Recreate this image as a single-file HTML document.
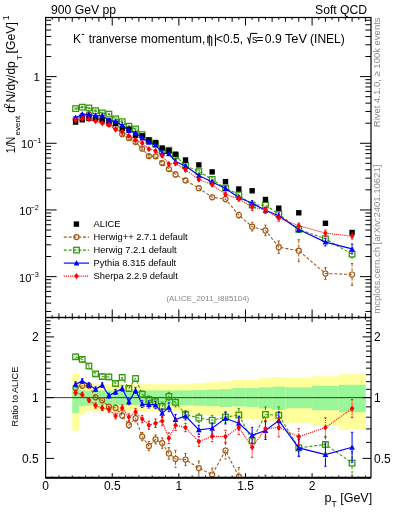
<!DOCTYPE html><html><head><meta charset="utf-8"><style>html,body{margin:0;padding:0;background:#fff;}svg{display:block;will-change:transform;}</style></head><body>
<svg width="393" height="512" viewBox="0 0 393 512" style="font-family:'Liberation Sans', sans-serif">
<defs><clipPath id="ct"><rect x="45.6" y="17.5" width="325.4" height="300"/></clipPath>
<clipPath id="cr"><rect x="45.6" y="317.5" width="325.4" height="160.2"/></clipPath></defs>
<g clip-path="url(#cr)">
<rect x="72.25" y="373.9" width="6.96" height="56.7" fill="#ffff9c"/>
<rect x="72.25" y="384.8" width="6.96" height="28.3" fill="#99f799"/>
<rect x="78.91" y="383.5" width="6.96" height="31.1" fill="#ffff9c"/>
<rect x="78.91" y="390.2" width="6.96" height="16" fill="#99f799"/>
<rect x="85.58" y="383.3" width="6.96" height="27.5" fill="#ffff9c"/>
<rect x="85.58" y="391" width="6.96" height="14.5" fill="#99f799"/>
<rect x="92.24" y="384.2" width="6.96" height="27.3" fill="#ffff9c"/>
<rect x="92.24" y="390.4" width="6.96" height="14.6" fill="#99f799"/>
<rect x="98.9" y="384.2" width="6.96" height="27.3" fill="#ffff9c"/>
<rect x="98.9" y="390.4" width="6.96" height="14.6" fill="#99f799"/>
<rect x="105.56" y="384.2" width="6.96" height="27.3" fill="#ffff9c"/>
<rect x="105.56" y="390.4" width="6.96" height="14.6" fill="#99f799"/>
<rect x="112.22" y="384.2" width="6.96" height="27.3" fill="#ffff9c"/>
<rect x="112.22" y="390.4" width="6.96" height="14.6" fill="#99f799"/>
<rect x="118.89" y="384.2" width="6.96" height="27.3" fill="#ffff9c"/>
<rect x="118.89" y="390.4" width="6.96" height="14.6" fill="#99f799"/>
<rect x="125.55" y="384.2" width="6.96" height="27.3" fill="#ffff9c"/>
<rect x="125.55" y="390.4" width="6.96" height="14.6" fill="#99f799"/>
<rect x="132.21" y="384.2" width="6.96" height="27.3" fill="#ffff9c"/>
<rect x="132.21" y="390.4" width="6.96" height="14.6" fill="#99f799"/>
<rect x="138.88" y="384.2" width="6.96" height="27.3" fill="#ffff9c"/>
<rect x="138.88" y="390.4" width="6.96" height="14.6" fill="#99f799"/>
<rect x="145.54" y="384.2" width="6.96" height="27.3" fill="#ffff9c"/>
<rect x="145.54" y="390.4" width="6.96" height="14.6" fill="#99f799"/>
<rect x="152.2" y="384.2" width="6.96" height="27.3" fill="#ffff9c"/>
<rect x="152.2" y="390.4" width="6.96" height="14.6" fill="#99f799"/>
<rect x="158.86" y="384.2" width="6.96" height="27.3" fill="#ffff9c"/>
<rect x="158.86" y="390.4" width="6.96" height="14.6" fill="#99f799"/>
<rect x="165.53" y="384.2" width="6.96" height="27.3" fill="#ffff9c"/>
<rect x="165.53" y="390.4" width="6.96" height="14.6" fill="#99f799"/>
<rect x="172.19" y="384.2" width="6.96" height="27.3" fill="#ffff9c"/>
<rect x="172.19" y="390.4" width="6.96" height="14.6" fill="#99f799"/>
<rect x="178.85" y="384.3" width="13.63" height="29.4" fill="#ffff9c"/>
<rect x="178.85" y="390.4" width="13.63" height="14.9" fill="#99f799"/>
<rect x="192.18" y="383.2" width="13.62" height="31.3" fill="#ffff9c"/>
<rect x="192.18" y="390.1" width="13.62" height="15.6" fill="#99f799"/>
<rect x="205.5" y="382.3" width="13.62" height="33" fill="#ffff9c"/>
<rect x="205.5" y="389.6" width="13.62" height="16.5" fill="#99f799"/>
<rect x="218.82" y="381.2" width="13.62" height="34.8" fill="#ffff9c"/>
<rect x="218.82" y="389.2" width="13.62" height="17.7" fill="#99f799"/>
<rect x="232.15" y="380" width="13.63" height="39.1" fill="#ffff9c"/>
<rect x="232.15" y="388.1" width="13.63" height="18.3" fill="#99f799"/>
<rect x="245.47" y="380" width="13.63" height="39.1" fill="#ffff9c"/>
<rect x="245.47" y="388.1" width="13.63" height="18.8" fill="#99f799"/>
<rect x="258.8" y="378.2" width="13.62" height="42.4" fill="#ffff9c"/>
<rect x="258.8" y="387.3" width="13.62" height="21.1" fill="#99f799"/>
<rect x="272.12" y="377" width="13.62" height="44.4" fill="#ffff9c"/>
<rect x="272.12" y="386.6" width="13.62" height="23.3" fill="#99f799"/>
<rect x="285.45" y="377.7" width="26.95" height="45.1" fill="#ffff9c"/>
<rect x="285.45" y="387.3" width="26.95" height="20.9" fill="#99f799"/>
<rect x="312.1" y="376.3" width="26.95" height="49.7" fill="#ffff9c"/>
<rect x="312.1" y="385.8" width="26.95" height="24.4" fill="#99f799"/>
<rect x="338.75" y="374.2" width="26.95" height="55.3" fill="#ffff9c"/>
<rect x="338.75" y="384.8" width="26.95" height="27.4" fill="#99f799"/>
<line x1="45.6" y1="397.65" x2="371" y2="397.65" stroke="#3a3a3a" stroke-width="1.0"/>
</g>
<g clip-path="url(#ct)">
<path d="M238.81 212.08V212.18 M238.81 217.98V218.08 M252.14 222.4V223.8 M252.14 229.6V231 M265.46 225.1V227.5 M265.46 233.3V235.7 M278.79 240.9V244.3 M278.79 250.1V253.5 M298.77 239.7V247.8 M298.77 253.6V261.7 M325.43 267.6V270.6 M325.43 276.4V279.4 M352.07 263.5V271.6 M352.07 277.4V285.5" fill="none" stroke="#a3560f" stroke-width="1.05" stroke-dasharray="3,1.8"/><path d="M74.38 118.14h2.4M74.38 119.75h2.4 M81.04 115.12h2.4M81.04 116.65h2.4 M87.71 113.64h2.4M87.71 115.13h2.4 M94.37 117.59h2.4M94.37 119.18h2.4 M101.03 119.94h2.4M101.03 121.61h2.4 M107.69 123.18h2.4M107.69 124.94h2.4 M114.36 125.96h2.4M114.36 127.81h2.4 M121.02 133.28h2.4M121.02 135.38h2.4 M127.68 137.08h2.4M127.68 139.33h2.4 M134.34 140.92h2.4M134.34 143.32h2.4 M141.01 147.32h2.4M141.01 150.01h2.4 M147.67 154.48h2.4M147.67 157.53h2.4 M154.33 154.81h2.4M154.33 157.78h2.4 M160.99 161.29h2.4M160.99 164.74h2.4 M167.66 167.1h2.4M167.66 170.93h2.4 M174.32 171.59h2.4M174.32 177.21h2.4 M184.31 178.42h2.4M184.31 182.45h2.4 M197.64 185.86h2.4M197.64 190.49h2.4 M210.96 195.14h2.4M210.96 199.44h2.4 M224.29 196.28h2.4M224.29 201.83h2.4 M237.61 212.08h2.4M237.61 218.08h2.4 M250.94 222.4h2.4M250.94 231h2.4 M264.26 225.1h2.4M264.26 235.7h2.4 M277.59 240.9h2.4M277.59 253.5h2.4 M297.57 239.7h2.4M297.57 261.7h2.4 M324.23 267.6h2.4M324.23 279.4h2.4 M350.88 263.5h2.4M350.88 285.5h2.4" fill="none" stroke="#a3560f" stroke-width="0.9"/>
<polyline points="75.58,118.95 82.24,115.89 88.91,114.39 95.57,118.38 102.23,120.78 108.89,124.06 115.56,126.89 122.22,134.33 128.88,138.2 135.54,142.12 142.21,148.67 148.87,156.01 155.53,156.29 162.19,163.02 168.86,169.02 175.52,174.4 185.51,180.43 198.84,188.17 212.16,197.29 225.49,199.06 238.81,215.08 252.14,226.7 265.46,230.4 278.79,247.2 298.77,250.7 325.43,273.5 352.07,274.5" fill="none" stroke="#a3560f" stroke-width="1.05" stroke-dasharray="3,1.8"/>
<circle cx="75.58" cy="118.95" r="2.55" fill="none" stroke="#a3560f" stroke-width="1.15"/>
<circle cx="82.24" cy="115.89" r="2.55" fill="none" stroke="#a3560f" stroke-width="1.15"/>
<circle cx="88.91" cy="114.39" r="2.55" fill="none" stroke="#a3560f" stroke-width="1.15"/>
<circle cx="95.57" cy="118.38" r="2.55" fill="none" stroke="#a3560f" stroke-width="1.15"/>
<circle cx="102.23" cy="120.78" r="2.55" fill="none" stroke="#a3560f" stroke-width="1.15"/>
<circle cx="108.89" cy="124.06" r="2.55" fill="none" stroke="#a3560f" stroke-width="1.15"/>
<circle cx="115.56" cy="126.89" r="2.55" fill="none" stroke="#a3560f" stroke-width="1.15"/>
<circle cx="122.22" cy="134.33" r="2.55" fill="none" stroke="#a3560f" stroke-width="1.15"/>
<circle cx="128.88" cy="138.2" r="2.55" fill="none" stroke="#a3560f" stroke-width="1.15"/>
<circle cx="135.54" cy="142.12" r="2.55" fill="none" stroke="#a3560f" stroke-width="1.15"/>
<circle cx="142.21" cy="148.67" r="2.55" fill="none" stroke="#a3560f" stroke-width="1.15"/>
<circle cx="148.87" cy="156.01" r="2.55" fill="none" stroke="#a3560f" stroke-width="1.15"/>
<circle cx="155.53" cy="156.29" r="2.55" fill="none" stroke="#a3560f" stroke-width="1.15"/>
<circle cx="162.19" cy="163.02" r="2.55" fill="none" stroke="#a3560f" stroke-width="1.15"/>
<circle cx="168.86" cy="169.02" r="2.55" fill="none" stroke="#a3560f" stroke-width="1.15"/>
<circle cx="175.52" cy="174.4" r="2.55" fill="none" stroke="#a3560f" stroke-width="1.15"/>
<circle cx="185.51" cy="180.43" r="2.55" fill="none" stroke="#a3560f" stroke-width="1.15"/>
<circle cx="198.84" cy="188.17" r="2.55" fill="none" stroke="#a3560f" stroke-width="1.15"/>
<circle cx="212.16" cy="197.29" r="2.55" fill="none" stroke="#a3560f" stroke-width="1.15"/>
<circle cx="225.49" cy="199.06" r="2.55" fill="none" stroke="#a3560f" stroke-width="1.15"/>
<circle cx="238.81" cy="215.08" r="2.55" fill="none" stroke="#a3560f" stroke-width="1.15"/>
<circle cx="252.14" cy="226.7" r="2.55" fill="none" stroke="#a3560f" stroke-width="1.15"/>
<circle cx="265.46" cy="230.4" r="2.55" fill="none" stroke="#a3560f" stroke-width="1.15"/>
<circle cx="278.79" cy="247.2" r="2.55" fill="none" stroke="#a3560f" stroke-width="1.15"/>
<circle cx="298.77" cy="250.7" r="2.55" fill="none" stroke="#a3560f" stroke-width="1.15"/>
<circle cx="325.43" cy="273.5" r="2.55" fill="none" stroke="#a3560f" stroke-width="1.15"/>
<circle cx="352.07" cy="274.5" r="2.55" fill="none" stroke="#a3560f" stroke-width="1.15"/>
<path d="M352.07 250.16V251.22 M352.07 257.02V258.09" fill="none" stroke="#33960a" stroke-width="1.05" stroke-dasharray="3,1.8"/><path d="M74.38 107.93h2.4M74.38 109.28h2.4 M81.04 106.51h2.4M81.04 107.82h2.4 M87.71 107.28h2.4M87.71 108.61h2.4 M94.37 109.96h2.4M94.37 111.35h2.4 M101.03 112.22h2.4M101.03 113.67h2.4 M107.69 113.4h2.4M107.69 114.89h2.4 M114.36 118.02h2.4M114.36 119.63h2.4 M121.02 120.86h2.4M121.02 122.56h2.4 M127.68 125.26h2.4M127.68 127.09h2.4 M134.34 128.02h2.4M134.34 129.93h2.4 M141.01 133.6h2.4M141.01 135.72h2.4 M147.67 139.44h2.4M147.67 141.78h2.4 M154.33 142.63h2.4M154.33 145.11h2.4 M160.99 149.49h2.4M160.99 152.29h2.4 M167.66 148.84h2.4M167.66 151.6h2.4 M174.32 154.21h2.4M174.32 157.26h2.4 M184.31 164.23h2.4M184.31 166.77h2.4 M197.64 170.21h2.4M197.64 173.04h2.4 M210.96 177.76h2.4M210.96 181h2.4 M224.29 186.15h2.4M224.29 189.9h2.4 M237.61 192.62h2.4M237.61 196.84h2.4 M250.94 202.44h2.4M250.94 207.47h2.4 M264.26 202.56h2.4M264.26 207.58h2.4 M277.59 211.26h2.4M277.59 216.81h2.4 M297.57 226.76h2.4M297.57 232.04h2.4 M324.23 236.1h2.4M324.23 241.39h2.4 M350.88 250.16h2.4M350.88 258.09h2.4" fill="none" stroke="#33960a" stroke-width="0.9"/>
<polyline points="75.58,108.6 82.24,107.16 88.91,107.94 95.57,110.65 102.23,112.95 108.89,114.14 115.56,118.83 122.22,121.71 128.88,126.18 135.54,128.97 142.21,134.66 148.87,140.61 155.53,143.87 162.19,150.89 168.86,150.22 175.52,155.74 185.51,165.5 198.84,171.62 212.16,179.38 225.49,188.03 238.81,194.73 252.14,204.96 265.46,205.07 278.79,214.03 298.77,229.4 325.43,238.74 352.07,254.12" fill="none" stroke="#33960a" stroke-width="1.05" stroke-dasharray="3,1.8"/>
<rect x="72.78" y="105.8" width="5.6" height="5.6" fill="none" stroke="#33960a" stroke-width="1.25"/>
<rect x="79.44" y="104.36" width="5.6" height="5.6" fill="none" stroke="#33960a" stroke-width="1.25"/>
<rect x="86.11" y="105.14" width="5.6" height="5.6" fill="none" stroke="#33960a" stroke-width="1.25"/>
<rect x="92.77" y="107.85" width="5.6" height="5.6" fill="none" stroke="#33960a" stroke-width="1.25"/>
<rect x="99.43" y="110.15" width="5.6" height="5.6" fill="none" stroke="#33960a" stroke-width="1.25"/>
<rect x="106.09" y="111.34" width="5.6" height="5.6" fill="none" stroke="#33960a" stroke-width="1.25"/>
<rect x="112.76" y="116.03" width="5.6" height="5.6" fill="none" stroke="#33960a" stroke-width="1.25"/>
<rect x="119.42" y="118.91" width="5.6" height="5.6" fill="none" stroke="#33960a" stroke-width="1.25"/>
<rect x="126.08" y="123.38" width="5.6" height="5.6" fill="none" stroke="#33960a" stroke-width="1.25"/>
<rect x="132.74" y="126.17" width="5.6" height="5.6" fill="none" stroke="#33960a" stroke-width="1.25"/>
<rect x="139.41" y="131.86" width="5.6" height="5.6" fill="none" stroke="#33960a" stroke-width="1.25"/>
<rect x="146.07" y="137.81" width="5.6" height="5.6" fill="none" stroke="#33960a" stroke-width="1.25"/>
<rect x="152.73" y="141.07" width="5.6" height="5.6" fill="none" stroke="#33960a" stroke-width="1.25"/>
<rect x="159.39" y="148.09" width="5.6" height="5.6" fill="none" stroke="#33960a" stroke-width="1.25"/>
<rect x="166.06" y="147.42" width="5.6" height="5.6" fill="none" stroke="#33960a" stroke-width="1.25"/>
<rect x="172.72" y="152.94" width="5.6" height="5.6" fill="none" stroke="#33960a" stroke-width="1.25"/>
<rect x="182.71" y="162.7" width="5.6" height="5.6" fill="none" stroke="#33960a" stroke-width="1.25"/>
<rect x="196.04" y="168.82" width="5.6" height="5.6" fill="none" stroke="#33960a" stroke-width="1.25"/>
<rect x="209.36" y="176.58" width="5.6" height="5.6" fill="none" stroke="#33960a" stroke-width="1.25"/>
<rect x="222.69" y="185.23" width="5.6" height="5.6" fill="none" stroke="#33960a" stroke-width="1.25"/>
<rect x="236.01" y="191.93" width="5.6" height="5.6" fill="none" stroke="#33960a" stroke-width="1.25"/>
<rect x="249.34" y="202.16" width="5.6" height="5.6" fill="none" stroke="#33960a" stroke-width="1.25"/>
<rect x="262.66" y="202.27" width="5.6" height="5.6" fill="none" stroke="#33960a" stroke-width="1.25"/>
<rect x="275.99" y="211.23" width="5.6" height="5.6" fill="none" stroke="#33960a" stroke-width="1.25"/>
<rect x="295.97" y="226.6" width="5.6" height="5.6" fill="none" stroke="#33960a" stroke-width="1.25"/>
<rect x="322.62" y="235.94" width="5.6" height="5.6" fill="none" stroke="#33960a" stroke-width="1.25"/>
<rect x="349.27" y="251.32" width="5.6" height="5.6" fill="none" stroke="#33960a" stroke-width="1.25"/>
<rect x="72.88" y="119.4" width="5.4" height="5.4" fill="#000"/>
<rect x="79.54" y="117.1" width="5.4" height="5.4" fill="#000"/>
<rect x="86.21" y="115.7" width="5.4" height="5.4" fill="#000"/>
<rect x="92.87" y="115.8" width="5.4" height="5.4" fill="#000"/>
<rect x="99.53" y="117.2" width="5.4" height="5.4" fill="#000"/>
<rect x="106.19" y="118.3" width="5.4" height="5.4" fill="#000"/>
<rect x="112.86" y="120.8" width="5.4" height="5.4" fill="#000"/>
<rect x="119.52" y="125.7" width="5.4" height="5.4" fill="#000"/>
<rect x="126.18" y="126.5" width="5.4" height="5.4" fill="#000"/>
<rect x="132.84" y="132.6" width="5.4" height="5.4" fill="#000"/>
<rect x="139.51" y="133.1" width="5.4" height="5.4" fill="#000"/>
<rect x="146.17" y="137.3" width="5.4" height="5.4" fill="#000"/>
<rect x="152.83" y="139.8" width="5.4" height="5.4" fill="#000"/>
<rect x="159.49" y="145.3" width="5.4" height="5.4" fill="#000"/>
<rect x="166.16" y="147.9" width="5.4" height="5.4" fill="#000"/>
<rect x="172.82" y="151.5" width="5.4" height="5.4" fill="#000"/>
<rect x="182.81" y="157.3" width="5.4" height="5.4" fill="#000"/>
<rect x="196.14" y="162.2" width="5.4" height="5.4" fill="#000"/>
<rect x="209.46" y="169.2" width="5.4" height="5.4" fill="#000"/>
<rect x="222.79" y="178.9" width="5.4" height="5.4" fill="#000"/>
<rect x="236.11" y="186.3" width="5.4" height="5.4" fill="#000"/>
<rect x="249.44" y="188.1" width="5.4" height="5.4" fill="#000"/>
<rect x="262.76" y="196.8" width="5.4" height="5.4" fill="#000"/>
<rect x="276.09" y="205.5" width="5.4" height="5.4" fill="#000"/>
<rect x="296.07" y="210.1" width="5.4" height="5.4" fill="#000"/>
<rect x="322.73" y="220.6" width="5.4" height="5.4" fill="#000"/>
<rect x="349.38" y="229.8" width="5.4" height="5.4" fill="#000"/>
<path d="M265.46 207.38V207.45 M265.46 213.25V213.33 M278.79 212.87V212.88 M278.79 218.68V218.69 M325.43 238.25V239.21 M325.43 245.01V245.98 M352.07 243.95V246 M352.07 251.8V253.86" fill="none" stroke="#0000ff" stroke-width="1.05"/><path d="M74.38 116.9h2.4M74.38 118.48h2.4 M81.04 113.52h2.4M81.04 115.01h2.4 M87.71 113.48h2.4M87.71 114.96h2.4 M94.37 114.95h2.4M94.37 116.47h2.4 M101.03 114.96h2.4M101.03 116.48h2.4 M107.69 119.53h2.4M107.69 121.18h2.4 M114.36 120.76h2.4M114.36 122.44h2.4 M121.02 124.48h2.4M121.02 126.28h2.4 M127.68 129.59h2.4M127.68 131.56h2.4 M134.34 131.88h2.4M134.34 133.93h2.4 M141.01 136.81h2.4M141.01 139.05h2.4 M147.67 141.03h2.4M147.67 143.43h2.4 M154.33 143.63h2.4M154.33 146.16h2.4 M160.99 151.71h2.4M160.99 154.63h2.4 M167.66 152.28h2.4M167.66 155.23h2.4 M174.32 159.74h2.4M174.32 163.1h2.4 M184.31 164.78h2.4M184.31 167.35h2.4 M197.64 174.01h2.4M197.64 177.04h2.4 M210.96 180.3h2.4M210.96 183.69h2.4 M224.29 186.53h2.4M224.29 190.31h2.4 M237.61 195.26h2.4M237.61 199.69h2.4 M250.94 200.63h2.4M250.94 205.91h2.4 M264.26 207.38h2.4M264.26 213.33h2.4 M277.59 212.87h2.4M277.59 218.69h2.4 M297.57 226.53h2.4M297.57 232.28h2.4 M324.23 238.25h2.4M324.23 245.98h2.4 M350.88 243.95h2.4M350.88 253.86h2.4" fill="none" stroke="#0000ff" stroke-width="0.9"/>
<polyline points="75.58,117.69 82.24,114.27 88.91,114.22 95.57,115.71 102.23,115.72 108.89,120.36 115.56,121.6 122.22,125.38 128.88,130.57 135.54,132.9 142.21,137.93 148.87,142.23 155.53,144.9 162.19,153.17 168.86,153.75 175.52,161.42 185.51,166.06 198.84,175.52 212.16,181.99 225.49,188.42 238.81,197.47 252.14,203.27 265.46,210.35 278.79,215.78 298.77,229.4 325.43,242.11 352.07,248.9" fill="none" stroke="#0000ff" stroke-width="1.15"/>
<path d="M75.58 114.49L78.38 120.19L72.78 120.19Z" fill="#0000ff"/>
<path d="M82.24 111.07L85.04 116.77L79.44 116.77Z" fill="#0000ff"/>
<path d="M88.91 111.02L91.71 116.72L86.11 116.72Z" fill="#0000ff"/>
<path d="M95.57 112.51L98.37 118.21L92.77 118.21Z" fill="#0000ff"/>
<path d="M102.23 112.52L105.03 118.22L99.43 118.22Z" fill="#0000ff"/>
<path d="M108.89 117.16L111.69 122.86L106.09 122.86Z" fill="#0000ff"/>
<path d="M115.56 118.4L118.36 124.1L112.76 124.1Z" fill="#0000ff"/>
<path d="M122.22 122.18L125.02 127.88L119.42 127.88Z" fill="#0000ff"/>
<path d="M128.88 127.37L131.68 133.07L126.08 133.07Z" fill="#0000ff"/>
<path d="M135.54 129.7L138.34 135.4L132.74 135.4Z" fill="#0000ff"/>
<path d="M142.21 134.73L145.01 140.43L139.41 140.43Z" fill="#0000ff"/>
<path d="M148.87 139.03L151.67 144.73L146.07 144.73Z" fill="#0000ff"/>
<path d="M155.53 141.7L158.33 147.4L152.73 147.4Z" fill="#0000ff"/>
<path d="M162.19 149.97L164.99 155.67L159.39 155.67Z" fill="#0000ff"/>
<path d="M168.86 150.55L171.66 156.25L166.06 156.25Z" fill="#0000ff"/>
<path d="M175.52 158.22L178.32 163.92L172.72 163.92Z" fill="#0000ff"/>
<path d="M185.51 162.86L188.31 168.56L182.71 168.56Z" fill="#0000ff"/>
<path d="M198.84 172.32L201.64 178.02L196.04 178.02Z" fill="#0000ff"/>
<path d="M212.16 178.79L214.96 184.49L209.36 184.49Z" fill="#0000ff"/>
<path d="M225.49 185.22L228.29 190.92L222.69 190.92Z" fill="#0000ff"/>
<path d="M238.81 194.27L241.61 199.97L236.01 199.97Z" fill="#0000ff"/>
<path d="M252.14 200.07L254.94 205.77L249.34 205.77Z" fill="#0000ff"/>
<path d="M265.46 207.15L268.26 212.85L262.66 212.85Z" fill="#0000ff"/>
<path d="M278.79 212.58L281.59 218.28L275.99 218.28Z" fill="#0000ff"/>
<path d="M298.77 226.2L301.57 231.9L295.97 231.9Z" fill="#0000ff"/>
<path d="M325.43 238.91L328.23 244.61L322.62 244.61Z" fill="#0000ff"/>
<path d="M352.07 245.7L354.88 251.4L349.27 251.4Z" fill="#0000ff"/>
<path d="M252.14 203.9V204.3 M252.14 210.1V210.51 M278.79 214.92V215.16 M278.79 220.96V221.2 M325.43 229.96V230.26 M325.43 236.06V236.37 M352.07 233.14V233.22 M352.07 239.02V239.09" fill="none" stroke="#ff0000" stroke-width="1.05" stroke-dasharray="1.1,1.0"/><path d="M74.38 119.64h2.4M74.38 121.29h2.4 M81.04 118.02h2.4M81.04 119.63h2.4 M87.71 118.37h2.4M87.71 119.99h2.4 M94.37 120.29h2.4M94.37 121.96h2.4 M101.03 122.42h2.4M101.03 124.15h2.4 M107.69 124.02h2.4M107.69 125.81h2.4 M114.36 128.59h2.4M114.36 130.53h2.4 M121.02 130.78h2.4M121.02 132.79h2.4 M127.68 134.55h2.4M127.68 136.7h2.4 M134.34 138.85h2.4M134.34 141.17h2.4 M141.01 141.67h2.4M141.01 144.1h2.4 M147.67 147.74h2.4M147.67 150.46h2.4 M154.33 149.54h2.4M154.33 152.34h2.4 M160.99 154.23h2.4M160.99 157.27h2.4 M167.66 162.24h2.4M167.66 165.75h2.4 M174.32 161.57h2.4M174.32 165.04h2.4 M184.31 168.49h2.4M184.31 171.23h2.4 M197.64 177.77h2.4M197.64 181h2.4 M210.96 182.9h2.4M210.96 186.44h2.4 M224.29 192.37h2.4M224.29 196.57h2.4 M237.61 196.6h2.4M237.61 201.13h2.4 M250.94 203.9h2.4M250.94 210.51h2.4 M264.26 207.02h2.4M264.26 212.49h2.4 M277.59 214.92h2.4M277.59 221.2h2.4 M297.57 223.06h2.4M297.57 228.34h2.4 M324.23 229.96h2.4M324.23 236.37h2.4 M350.88 233.14h2.4M350.88 239.09h2.4" fill="none" stroke="#ff0000" stroke-width="0.9"/>
<polyline points="75.58,120.46 82.24,118.83 88.91,119.18 95.57,121.13 102.23,123.29 108.89,124.91 115.56,129.56 122.22,131.79 128.88,135.63 135.54,140.01 142.21,142.89 148.87,149.1 155.53,150.94 162.19,155.75 168.86,164 175.52,163.3 185.51,169.86 198.84,179.39 212.16,184.67 225.49,194.47 238.81,198.86 252.14,207.2 265.46,209.76 278.79,218.06 298.77,225.7 325.43,233.16 352.07,236.12" fill="none" stroke="#ff0000" stroke-width="1.05" stroke-dasharray="1.1,1.0"/>
<path d="M75.58 117.36L77.88 120.46L75.58 123.56L73.28 120.46Z" fill="#ff0000"/>
<path d="M82.24 115.73L84.54 118.83L82.24 121.93L79.94 118.83Z" fill="#ff0000"/>
<path d="M88.91 116.08L91.21 119.18L88.91 122.28L86.61 119.18Z" fill="#ff0000"/>
<path d="M95.57 118.03L97.87 121.13L95.57 124.23L93.27 121.13Z" fill="#ff0000"/>
<path d="M102.23 120.19L104.53 123.29L102.23 126.39L99.93 123.29Z" fill="#ff0000"/>
<path d="M108.89 121.81L111.19 124.91L108.89 128.01L106.59 124.91Z" fill="#ff0000"/>
<path d="M115.56 126.46L117.86 129.56L115.56 132.66L113.26 129.56Z" fill="#ff0000"/>
<path d="M122.22 128.69L124.52 131.79L122.22 134.89L119.92 131.79Z" fill="#ff0000"/>
<path d="M128.88 132.53L131.18 135.63L128.88 138.73L126.58 135.63Z" fill="#ff0000"/>
<path d="M135.54 136.91L137.84 140.01L135.54 143.11L133.24 140.01Z" fill="#ff0000"/>
<path d="M142.21 139.79L144.51 142.89L142.21 145.99L139.91 142.89Z" fill="#ff0000"/>
<path d="M148.87 146L151.17 149.1L148.87 152.2L146.57 149.1Z" fill="#ff0000"/>
<path d="M155.53 147.84L157.83 150.94L155.53 154.04L153.23 150.94Z" fill="#ff0000"/>
<path d="M162.19 152.65L164.49 155.75L162.19 158.85L159.89 155.75Z" fill="#ff0000"/>
<path d="M168.86 160.9L171.16 164L168.86 167.1L166.56 164Z" fill="#ff0000"/>
<path d="M175.52 160.2L177.82 163.3L175.52 166.4L173.22 163.3Z" fill="#ff0000"/>
<path d="M185.51 166.76L187.81 169.86L185.51 172.96L183.21 169.86Z" fill="#ff0000"/>
<path d="M198.84 176.29L201.14 179.39L198.84 182.49L196.54 179.39Z" fill="#ff0000"/>
<path d="M212.16 181.57L214.46 184.67L212.16 187.77L209.86 184.67Z" fill="#ff0000"/>
<path d="M225.49 191.37L227.79 194.47L225.49 197.57L223.19 194.47Z" fill="#ff0000"/>
<path d="M238.81 195.76L241.11 198.86L238.81 201.96L236.51 198.86Z" fill="#ff0000"/>
<path d="M252.14 204.1L254.44 207.2L252.14 210.3L249.84 207.2Z" fill="#ff0000"/>
<path d="M265.46 206.66L267.76 209.76L265.46 212.86L263.16 209.76Z" fill="#ff0000"/>
<path d="M278.79 214.96L281.09 218.06L278.79 221.16L276.49 218.06Z" fill="#ff0000"/>
<path d="M298.77 222.6L301.07 225.7L298.77 228.8L296.47 225.7Z" fill="#ff0000"/>
<path d="M325.43 230.06L327.73 233.16L325.43 236.26L323.12 233.16Z" fill="#ff0000"/>
<path d="M352.07 233.02L354.38 236.12L352.07 239.22L349.77 236.12Z" fill="#ff0000"/>
</g>
<g clip-path="url(#cr)">
<path d="M122.22 412.42V412.7 M122.22 418.5V418.78 M128.88 421.5V422 M128.88 427.8V428.3 M135.54 414.66V415.4 M135.54 421.2V421.94 M142.21 432.52V433.7 M142.21 439.5V440.68 M148.87 441.47V443.2 M148.87 449V450.73 M155.53 434.9V436.5 M155.53 442.3V443.9 M162.19 437.88V440.2 M162.19 446V448.32 M168.86 447.61V450.5 M168.86 456.3V459.19 M175.52 450.3V455.9 M175.52 461.7V467.3 M185.51 453.4V456.6 M185.51 462.4V465.6 M198.84 461.1V465.2 M198.84 471V475.1 M212.16 468V471.6 M212.16 477.4V481 M225.49 442.1V447.6 M225.49 453.4V458.9 M238.81 467.53V473.7 M238.81 479.5V485.67 M252.14 493.3V503.42 M252.14 509.22V519.33 M265.46 475.14V488.28 M265.46 494.08V507.23 M278.79 496.63V512.8 M278.79 518.6V534.77 M298.77 479.08V509.47 M298.77 515.27V545.67 M325.43 531.74V546.7 M325.43 552.5V567.46 M352.07 491.49V521.88 M352.07 527.68V558.08" fill="none" stroke="#a3560f" stroke-width="1.05" stroke-dasharray="3,1.8"/><path d="M74.38 385.66h2.4M74.38 390.54h2.4 M81.04 383.49h2.4M81.04 388.11h2.4 M87.71 383.25h2.4M87.71 387.75h2.4 M94.37 394.88h2.4M94.37 399.72h2.4 M101.03 397.78h2.4M101.03 402.82h2.4 M107.69 404.24h2.4M107.69 409.56h2.4 M114.36 405.1h2.4M114.36 410.7h2.4 M121.02 412.42h2.4M121.02 418.78h2.4 M127.68 421.5h2.4M127.68 428.3h2.4 M134.34 414.66h2.4M134.34 421.94h2.4 M141.01 432.52h2.4M141.01 440.68h2.4 M147.67 441.47h2.4M147.67 450.73h2.4 M154.33 434.9h2.4M154.33 443.9h2.4 M160.99 437.88h2.4M160.99 448.32h2.4 M167.66 447.61h2.4M167.66 459.19h2.4 M174.32 450.3h2.4M174.32 467.3h2.4 M184.31 453.4h2.4M184.31 465.6h2.4 M197.64 461.1h2.4M197.64 475.1h2.4 M210.96 468h2.4M210.96 481h2.4 M224.29 442.1h2.4M224.29 458.9h2.4 M237.61 467.53h2.4M237.61 485.67h2.4 M250.94 493.3h2.4M250.94 519.33h2.4 M264.26 475.14h2.4M264.26 507.23h2.4 M277.59 496.63h2.4M277.59 534.77h2.4 M297.57 479.08h2.4M297.57 545.67h2.4 M324.23 531.74h2.4M324.23 567.46h2.4 M350.88 491.49h2.4M350.88 558.08h2.4" fill="none" stroke="#a3560f" stroke-width="0.9"/>
<polyline points="75.58,388.1 82.24,385.8 88.91,385.5 95.57,397.3 102.23,400.3 108.89,406.9 115.56,407.9 122.22,415.6 128.88,424.9 135.54,418.3 142.21,436.6 148.87,446.1 155.53,439.4 162.19,443.1 168.86,453.4 175.52,458.8 185.51,459.5 198.84,468.1 212.16,474.5 225.49,450.5 238.81,476.6 252.14,506.32 265.46,491.18 278.79,515.7 298.77,512.37 325.43,549.6 352.07,524.78" fill="none" stroke="#a3560f" stroke-width="1.05" stroke-dasharray="3,1.8"/>
<circle cx="75.58" cy="388.1" r="2.55" fill="none" stroke="#a3560f" stroke-width="1.15"/>
<circle cx="82.24" cy="385.8" r="2.55" fill="none" stroke="#a3560f" stroke-width="1.15"/>
<circle cx="88.91" cy="385.5" r="2.55" fill="none" stroke="#a3560f" stroke-width="1.15"/>
<circle cx="95.57" cy="397.3" r="2.55" fill="none" stroke="#a3560f" stroke-width="1.15"/>
<circle cx="102.23" cy="400.3" r="2.55" fill="none" stroke="#a3560f" stroke-width="1.15"/>
<circle cx="108.89" cy="406.9" r="2.55" fill="none" stroke="#a3560f" stroke-width="1.15"/>
<circle cx="115.56" cy="407.9" r="2.55" fill="none" stroke="#a3560f" stroke-width="1.15"/>
<circle cx="122.22" cy="415.6" r="2.55" fill="none" stroke="#a3560f" stroke-width="1.15"/>
<circle cx="128.88" cy="424.9" r="2.55" fill="none" stroke="#a3560f" stroke-width="1.15"/>
<circle cx="135.54" cy="418.3" r="2.55" fill="none" stroke="#a3560f" stroke-width="1.15"/>
<circle cx="142.21" cy="436.6" r="2.55" fill="none" stroke="#a3560f" stroke-width="1.15"/>
<circle cx="148.87" cy="446.1" r="2.55" fill="none" stroke="#a3560f" stroke-width="1.15"/>
<circle cx="155.53" cy="439.4" r="2.55" fill="none" stroke="#a3560f" stroke-width="1.15"/>
<circle cx="162.19" cy="443.1" r="2.55" fill="none" stroke="#a3560f" stroke-width="1.15"/>
<circle cx="168.86" cy="453.4" r="2.55" fill="none" stroke="#a3560f" stroke-width="1.15"/>
<circle cx="175.52" cy="458.8" r="2.55" fill="none" stroke="#a3560f" stroke-width="1.15"/>
<circle cx="185.51" cy="459.5" r="2.55" fill="none" stroke="#a3560f" stroke-width="1.15"/>
<circle cx="198.84" cy="468.1" r="2.55" fill="none" stroke="#a3560f" stroke-width="1.15"/>
<circle cx="212.16" cy="474.5" r="2.55" fill="none" stroke="#a3560f" stroke-width="1.15"/>
<circle cx="225.49" cy="450.5" r="2.55" fill="none" stroke="#a3560f" stroke-width="1.15"/>
<circle cx="238.81" cy="476.6" r="2.55" fill="none" stroke="#a3560f" stroke-width="1.15"/>
<circle cx="252.14" cy="506.32" r="2.55" fill="none" stroke="#a3560f" stroke-width="1.15"/>
<circle cx="265.46" cy="491.18" r="2.55" fill="none" stroke="#a3560f" stroke-width="1.15"/>
<circle cx="278.79" cy="515.7" r="2.55" fill="none" stroke="#a3560f" stroke-width="1.15"/>
<circle cx="298.77" cy="512.37" r="2.55" fill="none" stroke="#a3560f" stroke-width="1.15"/>
<circle cx="325.43" cy="549.6" r="2.55" fill="none" stroke="#a3560f" stroke-width="1.15"/>
<circle cx="352.07" cy="524.78" r="2.55" fill="none" stroke="#a3560f" stroke-width="1.15"/>
<path d="M135.54 375.6V375.6 M135.54 381.4V381.4 M142.21 391V391.3 M142.21 397.1V397.4 M148.87 395.95V396.6 M148.87 402.4V403.05 M155.53 398.05V398.9 M155.53 404.7V405.55 M162.19 402.16V403.5 M162.19 409.3V410.64 M168.86 392.31V393.6 M168.86 399.4V400.69 M175.52 397.7V399.4 M175.52 405.2V406.9 M185.51 410.45V411.4 M185.51 417.2V418.15 M198.84 413.72V415.1 M198.84 420.9V422.28 M212.16 415.4V417.4 M212.16 423.2V425.2 M225.49 411.41V414.2 M225.49 420V422.79 M238.81 408.62V412.1 M238.81 417.9V421.38 M252.14 432.88V437.6 M252.14 443.4V448.12 M265.46 406.9V411.6 M265.46 417.4V422.1 M278.79 406.9V412.4 M278.79 418.2V423.7 M298.77 439.9V445 M298.77 450.8V455.9 M325.43 436.4V441.5 M325.43 447.3V452.4 M352.07 451.1V460.2 M352.07 466V475.1" fill="none" stroke="#33960a" stroke-width="1.05" stroke-dasharray="3,1.8"/><path d="M74.38 354.76h2.4M74.38 358.84h2.4 M81.04 357.41h2.4M81.04 361.39h2.4 M87.71 363.98h2.4M87.71 368.02h2.4 M94.37 371.79h2.4M94.37 376.01h2.4 M101.03 374.4h2.4M101.03 378.8h2.4 M107.69 374.65h2.4M107.69 379.15h2.4 M114.36 381.07h2.4M114.36 385.93h2.4 M121.02 374.84h2.4M121.02 379.96h2.4 M127.68 385.74h2.4M127.68 391.26h2.4 M134.34 375.6h2.4M134.34 381.4h2.4 M141.01 391h2.4M141.01 397.4h2.4 M147.67 395.95h2.4M147.67 403.05h2.4 M154.33 398.05h2.4M154.33 405.55h2.4 M160.99 402.16h2.4M160.99 410.64h2.4 M167.66 392.31h2.4M167.66 400.69h2.4 M174.32 397.7h2.4M174.32 406.9h2.4 M184.31 410.45h2.4M184.31 418.15h2.4 M197.64 413.72h2.4M197.64 422.28h2.4 M210.96 415.4h2.4M210.96 425.2h2.4 M224.29 411.41h2.4M224.29 422.79h2.4 M237.61 408.62h2.4M237.61 421.38h2.4 M250.94 432.88h2.4M250.94 448.12h2.4 M264.26 406.9h2.4M264.26 422.1h2.4 M277.59 406.9h2.4M277.59 423.7h2.4 M297.57 439.9h2.4M297.57 455.9h2.4 M324.23 436.4h2.4M324.23 452.4h2.4 M350.88 451.1h2.4M350.88 475.1h2.4" fill="none" stroke="#33960a" stroke-width="0.9"/>
<polyline points="75.58,356.8 82.24,359.4 88.91,366 95.57,373.9 102.23,376.6 108.89,376.9 115.56,383.5 122.22,377.4 128.88,388.5 135.54,378.5 142.21,394.2 148.87,399.5 155.53,401.8 162.19,406.4 168.86,396.5 175.52,402.3 185.51,414.3 198.84,418 212.16,420.3 225.49,417.1 238.81,415 252.14,440.5 265.46,414.5 278.79,415.3 298.77,447.9 325.43,444.4 352.07,463.1" fill="none" stroke="#33960a" stroke-width="1.05" stroke-dasharray="3,1.8"/>
<rect x="72.78" y="354" width="5.6" height="5.6" fill="none" stroke="#33960a" stroke-width="1.25"/>
<rect x="79.44" y="356.6" width="5.6" height="5.6" fill="none" stroke="#33960a" stroke-width="1.25"/>
<rect x="86.11" y="363.2" width="5.6" height="5.6" fill="none" stroke="#33960a" stroke-width="1.25"/>
<rect x="92.77" y="371.1" width="5.6" height="5.6" fill="none" stroke="#33960a" stroke-width="1.25"/>
<rect x="99.43" y="373.8" width="5.6" height="5.6" fill="none" stroke="#33960a" stroke-width="1.25"/>
<rect x="106.09" y="374.1" width="5.6" height="5.6" fill="none" stroke="#33960a" stroke-width="1.25"/>
<rect x="112.76" y="380.7" width="5.6" height="5.6" fill="none" stroke="#33960a" stroke-width="1.25"/>
<rect x="119.42" y="374.6" width="5.6" height="5.6" fill="none" stroke="#33960a" stroke-width="1.25"/>
<rect x="126.08" y="385.7" width="5.6" height="5.6" fill="none" stroke="#33960a" stroke-width="1.25"/>
<rect x="132.74" y="375.7" width="5.6" height="5.6" fill="none" stroke="#33960a" stroke-width="1.25"/>
<rect x="139.41" y="391.4" width="5.6" height="5.6" fill="none" stroke="#33960a" stroke-width="1.25"/>
<rect x="146.07" y="396.7" width="5.6" height="5.6" fill="none" stroke="#33960a" stroke-width="1.25"/>
<rect x="152.73" y="399" width="5.6" height="5.6" fill="none" stroke="#33960a" stroke-width="1.25"/>
<rect x="159.39" y="403.6" width="5.6" height="5.6" fill="none" stroke="#33960a" stroke-width="1.25"/>
<rect x="166.06" y="393.7" width="5.6" height="5.6" fill="none" stroke="#33960a" stroke-width="1.25"/>
<rect x="172.72" y="399.5" width="5.6" height="5.6" fill="none" stroke="#33960a" stroke-width="1.25"/>
<rect x="182.71" y="411.5" width="5.6" height="5.6" fill="none" stroke="#33960a" stroke-width="1.25"/>
<rect x="196.04" y="415.2" width="5.6" height="5.6" fill="none" stroke="#33960a" stroke-width="1.25"/>
<rect x="209.36" y="417.5" width="5.6" height="5.6" fill="none" stroke="#33960a" stroke-width="1.25"/>
<rect x="222.69" y="414.3" width="5.6" height="5.6" fill="none" stroke="#33960a" stroke-width="1.25"/>
<rect x="236.01" y="412.2" width="5.6" height="5.6" fill="none" stroke="#33960a" stroke-width="1.25"/>
<rect x="249.34" y="437.7" width="5.6" height="5.6" fill="none" stroke="#33960a" stroke-width="1.25"/>
<rect x="262.66" y="411.7" width="5.6" height="5.6" fill="none" stroke="#33960a" stroke-width="1.25"/>
<rect x="275.99" y="412.5" width="5.6" height="5.6" fill="none" stroke="#33960a" stroke-width="1.25"/>
<rect x="295.97" y="445.1" width="5.6" height="5.6" fill="none" stroke="#33960a" stroke-width="1.25"/>
<rect x="322.62" y="441.6" width="5.6" height="5.6" fill="none" stroke="#33960a" stroke-width="1.25"/>
<rect x="349.27" y="460.3" width="5.6" height="5.6" fill="none" stroke="#33960a" stroke-width="1.25"/>
<path d="M128.88 398.82V398.9 M128.88 404.7V404.78 M135.54 387.3V387.5 M135.54 393.3V393.5 M142.21 400.71V401.2 M142.21 407V407.49 M148.87 400.75V401.5 M148.87 407.3V408.05 M155.53 401.08V402 M155.53 407.8V408.72 M162.19 408.89V410.4 M162.19 416.2V417.71 M168.86 402.75V404.3 M168.86 410.1V411.65 M175.52 414.42V416.6 M175.52 422.4V424.58 M185.51 412.11V413.1 M185.51 418.9V419.89 M198.84 425.22V426.9 M198.84 432.7V434.38 M212.16 423.08V425.3 M212.16 431.1V433.32 M225.49 412.57V415.4 M225.49 421.2V424.03 M238.81 416.61V420.4 M238.81 426.2V429.99 M252.14 427.4V432.5 M252.14 438.3V443.4 M265.46 421.5V427.6 M265.46 433.4V439.5 M278.79 411.8V417.7 M278.79 423.5V429.4 M298.77 439.2V445 M298.77 450.8V456.6 M325.43 442.9V451.7 M325.43 457.5V466.3 M352.07 432.3V444.4 M352.07 450.2V462.3" fill="none" stroke="#0000ff" stroke-width="1.05"/><path d="M74.38 381.91h2.4M74.38 386.69h2.4 M81.04 378.65h2.4M81.04 383.15h2.4 M87.71 382.75h2.4M87.71 387.25h2.4 M94.37 386.89h2.4M94.37 391.51h2.4 M101.03 382.69h2.4M101.03 387.31h2.4 M107.69 393.2h2.4M107.69 398.2h2.4 M114.36 389.35h2.4M114.36 394.45h2.4 M121.02 385.77h2.4M121.02 391.23h2.4 M127.68 398.82h2.4M127.68 404.78h2.4 M134.34 387.3h2.4M134.34 393.5h2.4 M141.01 400.71h2.4M141.01 407.49h2.4 M147.67 400.75h2.4M147.67 408.05h2.4 M154.33 401.08h2.4M154.33 408.72h2.4 M160.99 408.89h2.4M160.99 417.71h2.4 M167.66 402.75h2.4M167.66 411.65h2.4 M174.32 414.42h2.4M174.32 424.58h2.4 M184.31 412.11h2.4M184.31 419.89h2.4 M197.64 425.22h2.4M197.64 434.38h2.4 M210.96 423.08h2.4M210.96 433.32h2.4 M224.29 412.57h2.4M224.29 424.03h2.4 M237.61 416.61h2.4M237.61 429.99h2.4 M250.94 427.4h2.4M250.94 443.4h2.4 M264.26 421.5h2.4M264.26 439.5h2.4 M277.59 411.8h2.4M277.59 429.4h2.4 M297.57 439.2h2.4M297.57 456.6h2.4 M324.23 442.9h2.4M324.23 466.3h2.4 M350.88 432.3h2.4M350.88 462.3h2.4" fill="none" stroke="#0000ff" stroke-width="0.9"/>
<polyline points="75.58,384.3 82.24,380.9 88.91,385 95.57,389.2 102.23,385 108.89,395.7 115.56,391.9 122.22,388.5 128.88,401.8 135.54,390.4 142.21,404.1 148.87,404.4 155.53,404.9 162.19,413.3 168.86,407.2 175.52,419.5 185.51,416 198.84,429.8 212.16,428.2 225.49,418.3 238.81,423.3 252.14,435.4 265.46,430.5 278.79,420.6 298.77,447.9 325.43,454.6 352.07,447.3" fill="none" stroke="#0000ff" stroke-width="1.15"/>
<path d="M75.58 381.1L78.38 386.8L72.78 386.8Z" fill="#0000ff"/>
<path d="M82.24 377.7L85.04 383.4L79.44 383.4Z" fill="#0000ff"/>
<path d="M88.91 381.8L91.71 387.5L86.11 387.5Z" fill="#0000ff"/>
<path d="M95.57 386L98.37 391.7L92.77 391.7Z" fill="#0000ff"/>
<path d="M102.23 381.8L105.03 387.5L99.43 387.5Z" fill="#0000ff"/>
<path d="M108.89 392.5L111.69 398.2L106.09 398.2Z" fill="#0000ff"/>
<path d="M115.56 388.7L118.36 394.4L112.76 394.4Z" fill="#0000ff"/>
<path d="M122.22 385.3L125.02 391L119.42 391Z" fill="#0000ff"/>
<path d="M128.88 398.6L131.68 404.3L126.08 404.3Z" fill="#0000ff"/>
<path d="M135.54 387.2L138.34 392.9L132.74 392.9Z" fill="#0000ff"/>
<path d="M142.21 400.9L145.01 406.6L139.41 406.6Z" fill="#0000ff"/>
<path d="M148.87 401.2L151.67 406.9L146.07 406.9Z" fill="#0000ff"/>
<path d="M155.53 401.7L158.33 407.4L152.73 407.4Z" fill="#0000ff"/>
<path d="M162.19 410.1L164.99 415.8L159.39 415.8Z" fill="#0000ff"/>
<path d="M168.86 404L171.66 409.7L166.06 409.7Z" fill="#0000ff"/>
<path d="M175.52 416.3L178.32 422L172.72 422Z" fill="#0000ff"/>
<path d="M185.51 412.8L188.31 418.5L182.71 418.5Z" fill="#0000ff"/>
<path d="M198.84 426.6L201.64 432.3L196.04 432.3Z" fill="#0000ff"/>
<path d="M212.16 425L214.96 430.7L209.36 430.7Z" fill="#0000ff"/>
<path d="M225.49 415.1L228.29 420.8L222.69 420.8Z" fill="#0000ff"/>
<path d="M238.81 420.1L241.61 425.8L236.01 425.8Z" fill="#0000ff"/>
<path d="M252.14 432.2L254.94 437.9L249.34 437.9Z" fill="#0000ff"/>
<path d="M265.46 427.3L268.26 433L262.66 433Z" fill="#0000ff"/>
<path d="M278.79 417.4L281.59 423.1L275.99 423.1Z" fill="#0000ff"/>
<path d="M298.77 444.7L301.57 450.4L295.97 450.4Z" fill="#0000ff"/>
<path d="M325.43 451.4L328.23 457.1L322.62 457.1Z" fill="#0000ff"/>
<path d="M352.07 444.1L354.88 449.8L349.27 449.8Z" fill="#0000ff"/>
<path d="M115.56 413.07V413.1 M115.56 418.9V418.93 M122.22 404.85V405 M122.22 410.8V410.95 M128.88 413.85V414.2 M128.88 420V420.35 M135.54 408.39V409 M135.54 414.8V415.41 M142.21 415.41V416.2 M142.21 422V422.79 M148.87 421.09V422.3 M148.87 428.1V429.31 M155.53 418.96V420.3 M155.53 426.1V427.44 M162.19 416.49V418.2 M162.19 424V425.71 M168.86 432.89V435.3 M168.86 441.1V443.51 M175.52 419.95V422.3 M175.52 428.1V430.45 M185.51 423.34V424.6 M185.51 430.4V431.66 M198.84 436.6V438.6 M198.84 444.4V446.4 M212.16 430.93V433.4 M212.16 439.2V441.67 M225.49 430.24V433.7 M225.49 439.5V442.96 M238.81 420.64V424.6 M238.81 430.4V434.36 M252.14 437.3V444.4 M252.14 450.2V457.3 M265.46 420.42V425.8 M265.46 431.6V436.98 M278.79 418V424.6 M278.79 430.4V437 M298.77 428.7V433.8 M298.77 439.6V444.7 M325.43 417.8V424.6 M325.43 430.4V437.2 M352.07 399.6V405.7 M352.07 411.5V417.6" fill="none" stroke="#ff0000" stroke-width="1.05" stroke-dasharray="1.1,1.0"/><path d="M74.38 390.2h2.4M74.38 395.2h2.4 M81.04 392.27h2.4M81.04 397.13h2.4 M87.71 397.55h2.4M87.71 402.45h2.4 M94.37 403.07h2.4M94.37 408.13h2.4 M101.03 405.27h2.4M101.03 410.53h2.4 M107.69 406.8h2.4M107.69 412.2h2.4 M114.36 413.07h2.4M114.36 418.93h2.4 M121.02 404.85h2.4M121.02 410.95h2.4 M127.68 413.85h2.4M127.68 420.35h2.4 M134.34 408.39h2.4M134.34 415.41h2.4 M141.01 415.41h2.4M141.01 422.79h2.4 M147.67 421.09h2.4M147.67 429.31h2.4 M154.33 418.96h2.4M154.33 427.44h2.4 M160.99 416.49h2.4M160.99 425.71h2.4 M167.66 432.89h2.4M167.66 443.51h2.4 M174.32 419.95h2.4M174.32 430.45h2.4 M184.31 423.34h2.4M184.31 431.66h2.4 M197.64 436.6h2.4M197.64 446.4h2.4 M210.96 430.93h2.4M210.96 441.67h2.4 M224.29 430.24h2.4M224.29 442.96h2.4 M237.61 420.64h2.4M237.61 434.36h2.4 M250.94 437.3h2.4M250.94 457.3h2.4 M264.26 420.42h2.4M264.26 436.98h2.4 M277.59 418h2.4M277.59 437h2.4 M297.57 428.7h2.4M297.57 444.7h2.4 M324.23 417.8h2.4M324.23 437.2h2.4 M350.88 399.6h2.4M350.88 417.6h2.4" fill="none" stroke="#ff0000" stroke-width="0.9"/>
<polyline points="75.58,392.7 82.24,394.7 88.91,400 95.57,405.6 102.23,407.9 108.89,409.5 115.56,416 122.22,407.9 128.88,417.1 135.54,411.9 142.21,419.1 148.87,425.2 155.53,423.2 162.19,421.1 168.86,438.2 175.52,425.2 185.51,427.5 198.84,441.5 212.16,436.3 225.49,436.6 238.81,427.5 252.14,447.3 265.46,428.7 278.79,427.5 298.77,436.7 325.43,427.5 352.07,408.6" fill="none" stroke="#ff0000" stroke-width="1.05" stroke-dasharray="1.1,1.0"/>
<path d="M75.58 389.6L77.88 392.7L75.58 395.8L73.28 392.7Z" fill="#ff0000"/>
<path d="M82.24 391.6L84.54 394.7L82.24 397.8L79.94 394.7Z" fill="#ff0000"/>
<path d="M88.91 396.9L91.21 400L88.91 403.1L86.61 400Z" fill="#ff0000"/>
<path d="M95.57 402.5L97.87 405.6L95.57 408.7L93.27 405.6Z" fill="#ff0000"/>
<path d="M102.23 404.8L104.53 407.9L102.23 411L99.93 407.9Z" fill="#ff0000"/>
<path d="M108.89 406.4L111.19 409.5L108.89 412.6L106.59 409.5Z" fill="#ff0000"/>
<path d="M115.56 412.9L117.86 416L115.56 419.1L113.26 416Z" fill="#ff0000"/>
<path d="M122.22 404.8L124.52 407.9L122.22 411L119.92 407.9Z" fill="#ff0000"/>
<path d="M128.88 414L131.18 417.1L128.88 420.2L126.58 417.1Z" fill="#ff0000"/>
<path d="M135.54 408.8L137.84 411.9L135.54 415L133.24 411.9Z" fill="#ff0000"/>
<path d="M142.21 416L144.51 419.1L142.21 422.2L139.91 419.1Z" fill="#ff0000"/>
<path d="M148.87 422.1L151.17 425.2L148.87 428.3L146.57 425.2Z" fill="#ff0000"/>
<path d="M155.53 420.1L157.83 423.2L155.53 426.3L153.23 423.2Z" fill="#ff0000"/>
<path d="M162.19 418L164.49 421.1L162.19 424.2L159.89 421.1Z" fill="#ff0000"/>
<path d="M168.86 435.1L171.16 438.2L168.86 441.3L166.56 438.2Z" fill="#ff0000"/>
<path d="M175.52 422.1L177.82 425.2L175.52 428.3L173.22 425.2Z" fill="#ff0000"/>
<path d="M185.51 424.4L187.81 427.5L185.51 430.6L183.21 427.5Z" fill="#ff0000"/>
<path d="M198.84 438.4L201.14 441.5L198.84 444.6L196.54 441.5Z" fill="#ff0000"/>
<path d="M212.16 433.2L214.46 436.3L212.16 439.4L209.86 436.3Z" fill="#ff0000"/>
<path d="M225.49 433.5L227.79 436.6L225.49 439.7L223.19 436.6Z" fill="#ff0000"/>
<path d="M238.81 424.4L241.11 427.5L238.81 430.6L236.51 427.5Z" fill="#ff0000"/>
<path d="M252.14 444.2L254.44 447.3L252.14 450.4L249.84 447.3Z" fill="#ff0000"/>
<path d="M265.46 425.6L267.76 428.7L265.46 431.8L263.16 428.7Z" fill="#ff0000"/>
<path d="M278.79 424.4L281.09 427.5L278.79 430.6L276.49 427.5Z" fill="#ff0000"/>
<path d="M298.77 433.6L301.07 436.7L298.77 439.8L296.47 436.7Z" fill="#ff0000"/>
<path d="M325.43 424.4L327.73 427.5L325.43 430.6L323.12 427.5Z" fill="#ff0000"/>
<path d="M352.07 405.5L354.38 408.6L352.07 411.7L349.77 408.6Z" fill="#ff0000"/>
</g>
<g stroke="#000" fill="none">
<rect x="45.6" y="17.5" width="325.4" height="300" stroke-width="1.2"/>
<rect x="45.6" y="317.5" width="325.4" height="160.2" stroke-width="1.2"/>
<line x1="45.6" y1="477.7" x2="371" y2="477.7" stroke-width="1.9"/>
<path d="M52.26 17.5v2.2 M52.26 317.5v-2.2 M52.26 317.5v1.2 M52.26 477.7v-1.2 M58.93 17.5v4.2 M58.93 317.5v-4.2 M58.93 317.5v2.2 M58.93 477.7v-2.2 M65.59 17.5v2.2 M65.59 317.5v-2.2 M65.59 317.5v1.2 M65.59 477.7v-1.2 M72.25 17.5v4.2 M72.25 317.5v-4.2 M72.25 317.5v2.2 M72.25 477.7v-2.2 M78.91 17.5v2.2 M78.91 317.5v-2.2 M78.91 317.5v1.2 M78.91 477.7v-1.2 M85.58 17.5v4.2 M85.58 317.5v-4.2 M85.58 317.5v2.2 M85.58 477.7v-2.2 M92.24 17.5v2.2 M92.24 317.5v-2.2 M92.24 317.5v1.2 M92.24 477.7v-1.2 M98.9 17.5v4.2 M98.9 317.5v-4.2 M98.9 317.5v2.2 M98.9 477.7v-2.2 M105.56 17.5v2.2 M105.56 317.5v-2.2 M105.56 317.5v1.2 M105.56 477.7v-1.2 M112.22 17.5v8 M112.22 317.5v-8 M112.22 317.5v4.5 M112.22 477.7v-4.5 M118.89 17.5v2.2 M118.89 317.5v-2.2 M118.89 317.5v1.2 M118.89 477.7v-1.2 M125.55 17.5v4.2 M125.55 317.5v-4.2 M125.55 317.5v2.2 M125.55 477.7v-2.2 M132.21 17.5v2.2 M132.21 317.5v-2.2 M132.21 317.5v1.2 M132.21 477.7v-1.2 M138.88 17.5v4.2 M138.88 317.5v-4.2 M138.88 317.5v2.2 M138.88 477.7v-2.2 M145.54 17.5v2.2 M145.54 317.5v-2.2 M145.54 317.5v1.2 M145.54 477.7v-1.2 M152.2 17.5v4.2 M152.2 317.5v-4.2 M152.2 317.5v2.2 M152.2 477.7v-2.2 M158.86 17.5v2.2 M158.86 317.5v-2.2 M158.86 317.5v1.2 M158.86 477.7v-1.2 M165.53 17.5v4.2 M165.53 317.5v-4.2 M165.53 317.5v2.2 M165.53 477.7v-2.2 M172.19 17.5v2.2 M172.19 317.5v-2.2 M172.19 317.5v1.2 M172.19 477.7v-1.2 M178.85 17.5v8 M178.85 317.5v-8 M178.85 317.5v4.5 M178.85 477.7v-4.5 M185.51 17.5v2.2 M185.51 317.5v-2.2 M185.51 317.5v1.2 M185.51 477.7v-1.2 M192.18 17.5v4.2 M192.18 317.5v-4.2 M192.18 317.5v2.2 M192.18 477.7v-2.2 M198.84 17.5v2.2 M198.84 317.5v-2.2 M198.84 317.5v1.2 M198.84 477.7v-1.2 M205.5 17.5v4.2 M205.5 317.5v-4.2 M205.5 317.5v2.2 M205.5 477.7v-2.2 M212.16 17.5v2.2 M212.16 317.5v-2.2 M212.16 317.5v1.2 M212.16 477.7v-1.2 M218.82 17.5v4.2 M218.82 317.5v-4.2 M218.82 317.5v2.2 M218.82 477.7v-2.2 M225.49 17.5v2.2 M225.49 317.5v-2.2 M225.49 317.5v1.2 M225.49 477.7v-1.2 M232.15 17.5v4.2 M232.15 317.5v-4.2 M232.15 317.5v2.2 M232.15 477.7v-2.2 M238.81 17.5v2.2 M238.81 317.5v-2.2 M238.81 317.5v1.2 M238.81 477.7v-1.2 M245.47 17.5v8 M245.47 317.5v-8 M245.47 317.5v4.5 M245.47 477.7v-4.5 M252.14 17.5v2.2 M252.14 317.5v-2.2 M252.14 317.5v1.2 M252.14 477.7v-1.2 M258.8 17.5v4.2 M258.8 317.5v-4.2 M258.8 317.5v2.2 M258.8 477.7v-2.2 M265.46 17.5v2.2 M265.46 317.5v-2.2 M265.46 317.5v1.2 M265.46 477.7v-1.2 M272.13 17.5v4.2 M272.13 317.5v-4.2 M272.13 317.5v2.2 M272.13 477.7v-2.2 M278.79 17.5v2.2 M278.79 317.5v-2.2 M278.79 317.5v1.2 M278.79 477.7v-1.2 M285.45 17.5v4.2 M285.45 317.5v-4.2 M285.45 317.5v2.2 M285.45 477.7v-2.2 M292.11 17.5v2.2 M292.11 317.5v-2.2 M292.11 317.5v1.2 M292.11 477.7v-1.2 M298.78 17.5v4.2 M298.78 317.5v-4.2 M298.78 317.5v2.2 M298.78 477.7v-2.2 M305.44 17.5v2.2 M305.44 317.5v-2.2 M305.44 317.5v1.2 M305.44 477.7v-1.2 M312.1 17.5v8 M312.1 317.5v-8 M312.1 317.5v4.5 M312.1 477.7v-4.5 M318.76 17.5v2.2 M318.76 317.5v-2.2 M318.76 317.5v1.2 M318.76 477.7v-1.2 M325.43 17.5v4.2 M325.43 317.5v-4.2 M325.43 317.5v2.2 M325.43 477.7v-2.2 M332.09 17.5v2.2 M332.09 317.5v-2.2 M332.09 317.5v1.2 M332.09 477.7v-1.2 M338.75 17.5v4.2 M338.75 317.5v-4.2 M338.75 317.5v2.2 M338.75 477.7v-2.2 M345.41 17.5v2.2 M345.41 317.5v-2.2 M345.41 317.5v1.2 M345.41 477.7v-1.2 M352.08 17.5v4.2 M352.08 317.5v-4.2 M352.08 317.5v2.2 M352.08 477.7v-2.2 M358.74 17.5v2.2 M358.74 317.5v-2.2 M358.74 317.5v1.2 M358.74 477.7v-1.2 M365.4 17.5v4.2 M365.4 317.5v-4.2 M365.4 317.5v2.2 M365.4 477.7v-2.2 M45.6 311.47h5.6 M371 311.47h-5.6 M45.6 303.14h5.6 M371 303.14h-5.6 M45.6 296.68h5.6 M371 296.68h-5.6 M45.6 291.4h5.6 M371 291.4h-5.6 M45.6 286.94h5.6 M371 286.94h-5.6 M45.6 283.07h5.6 M371 283.07h-5.6 M45.6 279.66h5.6 M371 279.66h-5.6 M45.6 276.61h11 M371 276.61h-11 M45.6 256.54h5.6 M371 256.54h-5.6 M45.6 244.8h5.6 M371 244.8h-5.6 M45.6 236.47h5.6 M371 236.47h-5.6 M45.6 230.01h5.6 M371 230.01h-5.6 M45.6 224.73h5.6 M371 224.73h-5.6 M45.6 220.27h5.6 M371 220.27h-5.6 M45.6 216.4h5.6 M371 216.4h-5.6 M45.6 212.99h5.6 M371 212.99h-5.6 M45.6 209.94h11 M371 209.94h-11 M45.6 189.87h5.6 M371 189.87h-5.6 M45.6 178.13h5.6 M371 178.13h-5.6 M45.6 169.8h5.6 M371 169.8h-5.6 M45.6 163.34h5.6 M371 163.34h-5.6 M45.6 158.06h5.6 M371 158.06h-5.6 M45.6 153.6h5.6 M371 153.6h-5.6 M45.6 149.73h5.6 M371 149.73h-5.6 M45.6 146.32h5.6 M371 146.32h-5.6 M45.6 143.27h11 M371 143.27h-11 M45.6 123.2h5.6 M371 123.2h-5.6 M45.6 111.46h5.6 M371 111.46h-5.6 M45.6 103.13h5.6 M371 103.13h-5.6 M45.6 96.67h5.6 M371 96.67h-5.6 M45.6 91.39h5.6 M371 91.39h-5.6 M45.6 86.93h5.6 M371 86.93h-5.6 M45.6 83.06h5.6 M371 83.06h-5.6 M45.6 79.65h5.6 M371 79.65h-5.6 M45.6 76.6h11 M371 76.6h-11 M45.6 56.53h5.6 M371 56.53h-5.6 M45.6 44.79h5.6 M371 44.79h-5.6 M45.6 36.46h5.6 M371 36.46h-5.6 M45.6 30h5.6 M371 30h-5.6 M45.6 24.72h5.6 M371 24.72h-5.6 M45.6 20.26h5.6 M371 20.26h-5.6 M45.6 458.4h8.5 M371 458.4h-8.5 M45.6 442.42h5 M371 442.42h-5 M45.6 428.91h5 M371 428.91h-5 M45.6 417.21h5 M371 417.21h-5 M45.6 406.88h5 M371 406.88h-5 M45.6 397.65h8.5 M371 397.65h-8.5 M45.6 389.3h5 M371 389.3h-5 M45.6 381.67h5 M371 381.67h-5 M45.6 374.66h5 M371 374.66h-5 M45.6 368.16h5 M371 368.16h-5 M45.6 362.11h5 M371 362.11h-5 M45.6 356.46h5 M371 356.46h-5 M45.6 351.14h5 M371 351.14h-5 M45.6 346.13h5 M371 346.13h-5 M45.6 341.4h5 M371 341.4h-5 M45.6 336.9h8.5 M371 336.9h-8.5 M45.6 332.62h5 M371 332.62h-5 M45.6 328.55h5 M371 328.55h-5 M45.6 324.65h5 M371 324.65h-5 M45.6 320.92h5 M371 320.92h-5" stroke-width="1.0"/>
</g>
<text x="51" y="14.3" font-size="12.2">900 GeV pp</text>
<text x="315" y="14.3" font-size="12.2">Soft QCD</text>
<text x="39.8" y="80.9" font-size="11.5" text-anchor="end">1</text>
<text x="21" y="148.27" font-size="11.2">10</text>
<text x="33" y="143.47" font-size="7.3">&#8722;1</text>
<text x="19.3" y="214.94" font-size="11.2">10</text>
<text x="30.6" y="210.14" font-size="7.3">&#8722;2</text>
<text x="19.1" y="281.61" font-size="11.2">10</text>
<text x="30.5" y="276.81" font-size="7.3">&#8722;3</text>
<text x="45.6" y="489.6" font-size="12" text-anchor="middle">0</text>
<text x="112.22" y="489.6" font-size="12" text-anchor="middle">0.5</text>
<text x="178.85" y="489.6" font-size="12" text-anchor="middle">1</text>
<text x="245.47" y="489.6" font-size="12" text-anchor="middle">1.5</text>
<text x="312.1" y="489.6" font-size="12" text-anchor="middle">2</text>
<text x="38.6" y="341.2" font-size="12" text-anchor="end">2</text>
<text x="374" y="341.2" font-size="12">2</text>
<text x="38.6" y="401.95" font-size="12" text-anchor="end">1</text>
<text x="374" y="401.95" font-size="12">1</text>
<text x="38.6" y="462.7" font-size="12" text-anchor="end">0.5</text>
<text x="374" y="462.7" font-size="12">0.5</text>
<text x="72.9" y="43" font-size="12">K</text>
<rect x="81.9" y="33.9" width="2.3" height="1" fill="#000"/>
<text x="88.8" y="43" font-size="12" textLength="48.3" lengthAdjust="spacingAndGlyphs">tranverse</text>
<text x="140.8" y="43" font-size="12" textLength="64.5" lengthAdjust="spacingAndGlyphs">momentum,</text>
<path d="M209.3 34.6V45.8M215.5 34.3V46.1" stroke="#000" stroke-width="1"/>
<text x="206.4" y="43" font-size="12" textLength="6.5" lengthAdjust="spacingAndGlyphs">&#951;</text>
<text x="216.1" y="43" font-size="12">&lt;0.5,</text>
<path d="M247.1 38.3 L248.0 37.6 L249.6 43.5 L250.6 33.4 L257.4 33.4" fill="none" stroke="#000" stroke-width="1"/>
<text x="252" y="43" font-size="11">s</text>
<text x="256.5" y="43" font-size="12">=</text>
<text x="264.7" y="43" font-size="12" textLength="17" lengthAdjust="spacingAndGlyphs">0.9</text>
<text x="284.9" y="43" font-size="12" textLength="22.1" lengthAdjust="spacingAndGlyphs">TeV</text>
<text x="310.1" y="43" font-size="12">(INEL)</text>
<text transform="translate(15.2,153.3) rotate(-90)" font-size="12" textLength="16.6" lengthAdjust="spacingAndGlyphs">1/N</text>
<text transform="translate(19.5,135.4) rotate(-90)" font-size="8">event</text>
<text transform="translate(15.2,112.8) rotate(-90)" font-size="12">d</text>
<text transform="translate(9.9,107.9) rotate(-90)" font-size="8.5">2</text>
<text transform="translate(15.2,102.6) rotate(-90)" font-size="12">N/dy/dp</text>
<text transform="translate(21.9,60.1) rotate(-90)" font-size="8">T</text>
<text transform="translate(15.2,53.4) rotate(-90)" font-size="12" textLength="31.2" lengthAdjust="spacingAndGlyphs">[GeV]</text>
<text transform="translate(8.9,20.2) rotate(-90)" font-size="8.5">1</text>
<g transform="translate(18.3,426.4) rotate(-90)"><text x="0" y="0" font-size="9.1">Ratio to ALICE</text></g>
<g transform="translate(379.9,127.2) rotate(-90)"><text x="0" y="0" font-size="9.5" fill="#888">Rivet 4.1.0, &#8805; 100k events</text></g>
<g transform="translate(379.9,313.6) rotate(-90)"><text x="0" y="0" font-size="9.5" fill="#888">mcplots.cern.ch [arXiv:2401.10621]</text></g>
<text x="166.4" y="301" font-size="7.95" fill="#888">(ALICE_2011_I885104)</text>
<text x="324.6" y="501.8" font-size="12.5">p<tspan font-size="8.5" dy="5.6">T</tspan><tspan dy="-5.6"> [GeV]</tspan></text>
<rect x="73.7" y="221.4" width="5.4" height="5.4" fill="#000"/>
<text x="93.6" y="227.4" font-size="9.35">ALICE</text>
<polyline points="63.8,237.1 89.1,237.1" fill="none" stroke="#a3560f" stroke-width="1.05" stroke-dasharray="3,1.8"/>
<circle cx="76.5" cy="237.1" r="2.55" fill="none" stroke="#a3560f" stroke-width="1.15"/>
<text x="93.6" y="240.4" font-size="9.35">Herwig++ 2.7.1 default</text>
<polyline points="63.8,250.1 89.1,250.1" fill="none" stroke="#33960a" stroke-width="1.05" stroke-dasharray="3,1.8"/>
<rect x="73.7" y="247.3" width="5.6" height="5.6" fill="none" stroke="#33960a" stroke-width="1.25"/>
<text x="93.6" y="253.4" font-size="9.35">Herwig 7.2.1 default</text>
<polyline points="63.8,263.1 89.1,263.1" fill="none" stroke="#0000ff" stroke-width="1.15"/>
<path d="M76.5 259.9L79.3 265.6L73.7 265.6Z" fill="#0000ff"/>
<text x="93.6" y="266.4" font-size="9.35">Pythia 8.315 default</text>
<polyline points="63.8,276.1 89.1,276.1" fill="none" stroke="#ff0000" stroke-width="1.05" stroke-dasharray="1.1,1.0"/>
<path d="M76.5 273L78.8 276.1L76.5 279.2L74.2 276.1Z" fill="#ff0000"/>
<text x="93.6" y="279.4" font-size="9.35">Sherpa 2.2.9 default</text>
</svg></body></html>
